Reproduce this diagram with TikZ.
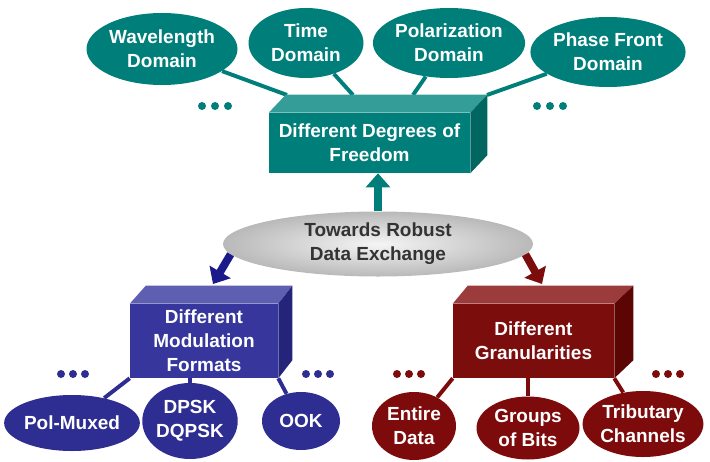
\documentclass[tikz,border=0pt]{standalone}
\usepackage{fontspec}
\setmainfont{Liberation Sans}
\usetikzlibrary{shapes.geometric,arrows.meta,backgrounds}

\definecolor{tealfront}{HTML}{007F7A}
\definecolor{tealtop}{HTML}{359D98}
\definecolor{tealside}{HTML}{00665F}
\definecolor{bluefront}{HTML}{36369C}
\definecolor{bluetop}{HTML}{5F5FB2}
\definecolor{blueside}{HTML}{24247A}
\definecolor{blueell}{HTML}{2E2E92}
\definecolor{bluearrow}{HTML}{1A1A8A}
\definecolor{redfront}{HTML}{7C0D0D}
\definecolor{redtop}{HTML}{9C3B3B}
\definecolor{redside}{HTML}{5C0505}
\definecolor{redell}{HTML}{7E0B0B}
\definecolor{textgray}{HTML}{333333}

\newcommand{\pxu}{0.025cm}

\tikzset{
	bubble/.style={ellipse,inner sep=0pt,text=white,align=center,
		font=\bfseries\fontsize{13.5}{17}\selectfont},
	frontbox/.style={rectangle,inner sep=0pt,text=white,align=center,
		font=\bfseries\fontsize{13.5}{17}\selectfont},
	link/.style={line width=2.8pt},
	fatarrow/.style={line width=5.6pt,-{Triangle[length=10pt,width=17pt]}},
}

\begin{document}
\begin{tikzpicture}[x=0.025cm,y=-0.025cm]
	\useasboundingbox (0,0) rectangle (710,461);
	
	% degrees of freedom
	\begin{scope}[every node/.style={bubble,fill=tealfront}]
	\node (wl) at (162,49) [minimum width=151*\pxu,minimum height=72*\pxu] {Wavelength\\Domain};
	\node (td) at (306,43) [minimum width=115*\pxu,minimum height=70*\pxu] {Time\\Domain};
	\node (pd) at (449,43) [minimum width=152*\pxu,minimum height=70*\pxu] {Polarization\\Domain};
	\node (pf) at (608,52) [minimum width=153*\pxu,minimum height=70*\pxu] {Phase Front\\Domain};
	\end{scope}
	
	\node[frontbox,fill=tealfront,minimum width=201*\pxu,minimum height=60*\pxu] (dof) at (369.5,143) {Different Degrees of\\Freedom};
	\fill[tealtop] (dof.north west) -- ++(17,-18) -- ([shift={(17,-18)}]dof.north east) -- (dof.north east) -- cycle;
	\fill[tealside] (dof.north east) -- ++(17,-18) -- ([shift={(17,-18)}]dof.south east) -- (dof.south east) -- cycle;
	
	\coordinate (wlend) at (287,95);
	\coordinate (tdend) at (353,95);
	\coordinate (pdend) at (413,95);
	\coordinate (pfend) at (487,95);
	\begin{pgfonlayer}{background}
	\draw[link,tealfront] (wl) -- (wlend);
	\draw[link,tealfront] (td) -- (tdend);
	\draw[link,tealfront] (pd) -- (pdend);
	\draw[link,tealfront] (pf) -- (pfend);
	\end{pgfonlayer}
	
	\foreach \x in {202,215,228,537,550,563}
		\fill[tealfront] (\x,106) circle (0.1cm);
	
	% centre
	\node[ellipse,inner sep=0pt,minimum width=310*\pxu,minimum height=65*\pxu,
		shading=radial,inner color=gray!8,outer color=gray!55,text=textgray,align=center,
		font=\bfseries\fontsize{13.5}{17}\selectfont] (ge) at (378,244) {Towards Robust\\Data Exchange};
	
	\coordinate (modtip) at (213,284);
	\coordinate (grantip) at (542,284);
	\draw[fatarrow,tealfront] (ge.north) -- (ge.north |- dof.south);
	\draw[fatarrow,bluearrow] (ge.184) -- (modtip);
	\draw[fatarrow,redfront] (ge.356) -- (grantip);
	
	% modulation formats
	\node[frontbox,fill=bluefront,minimum width=148*\pxu,minimum height=74*\pxu] (mod) at (204,341) {Different\\Modulation\\Formats};
	\fill[bluetop] (mod.north west) -- ++(16,-18) -- ([shift={(14,-18)}]mod.north east) -- (mod.north east) -- cycle;
	\fill[blueside] (mod.north east) -- ++(14,-18) -- ([shift={(14,-18)}]mod.south east) -- (mod.south east) -- cycle;
	
	\begin{scope}[every node/.style={bubble,fill=blueell}]
	\node (pm) at (72,423) [minimum width=130*\pxu,minimum height=56*\pxu] {Pol-Muxed};
	\node (dp) at (190,421) [minimum width=84*\pxu,minimum height=76*\pxu] {DPSK\\DQPSK};
	\node (ook) at (301,421) [minimum width=78*\pxu,minimum height=58*\pxu] {OOK};
	\end{scope}
	
	\begin{pgfonlayer}{background}
	\draw[link,blueell] (pm) -- (mod.south west);
	\draw[link,blueell] (dp) -- (dp |- mod.south);
	\draw[link,blueell] (ook) -- (mod.south east);
	\end{pgfonlayer}
	
	\foreach \x in {61,73,85,306,318,330}
		\fill[blueell] (\x,374) circle (0.1cm);
	
	% granularities
	\node[frontbox,fill=redfront,minimum width=161*\pxu,minimum height=74*\pxu] (gran) at (533.5,341) {Different\\Granularities};
	\fill[redtop] (gran.north west) -- ++(15,-18) -- ([shift={(19,-18)}]gran.north east) -- (gran.north east) -- cycle;
	\fill[redside] (gran.north east) -- ++(19,-18) -- ([shift={(19,-18)}]gran.south east) -- (gran.south east) -- cycle;
	
	\begin{scope}[every node/.style={bubble,fill=redell}]
	\node (ed) at (414,426) [minimum width=84*\pxu,minimum height=68*\pxu] {Entire\\Data};
	\node (gb) at (528,428) [minimum width=103*\pxu,minimum height=63*\pxu] {Groups\\of Bits};
	\node (tc) at (643,424) [minimum width=116*\pxu,minimum height=66*\pxu] {Tributary\\Channels};
	\end{scope}
	
	\begin{pgfonlayer}{background}
	\draw[link,redell] (ed) -- (gran.south west);
	\draw[link,redell] (gb) -- (gb |- gran.south);
	\draw[link,redell] (tc) -- (gran.south east);
	\end{pgfonlayer}
	
	\foreach \x in {397,409,421,656,668,680}
		\fill[redell] (\x,374) circle (0.1cm);
\end{tikzpicture}
\end{document}
